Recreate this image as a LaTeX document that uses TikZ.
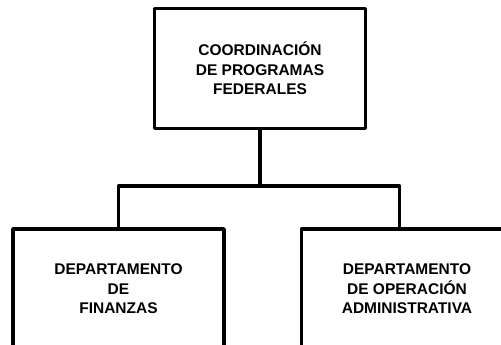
\documentclass[tikz,border=0pt]{standalone}
\usepackage{fontspec}
\setmainfont{Liberation Sans}
\tikzset{
	unidad/.style={draw,line width=3.5pt,line join=round,minimum width=211pt,minimum height=120pt,
		align=center,font=\bfseries\fontsize{15.5}{19.5}\selectfont,inner sep=0pt},
	liga/.style={line width=3.5pt,line join=round}
}
\begin{document}
\begin{tikzpicture}[x=1pt,y=1pt]
	\useasboundingbox (0,0) rectangle (501,-345);
	\node[unidad] at (260,-68.5)(coord){COORDINACIÓN\\DE PROGRAMAS\\FEDERALES};
	\node[unidad] at (118.5,-289)(fin){DEPARTAMENTO\\DE\\FINANZAS};
	\node[unidad] at (407,-289)(adm){DEPARTAMENTO\\DE OPERACIÓN\\ADMINISTRATIVA};
	\coordinate (bus) at (260,-186);
	\coordinate (admtop) at (399.5,-229);
	\draw[liga](coord.south)--(bus);
	\draw[liga](fin.north)|-(bus)-|(admtop);
\end{tikzpicture}
\end{document}
